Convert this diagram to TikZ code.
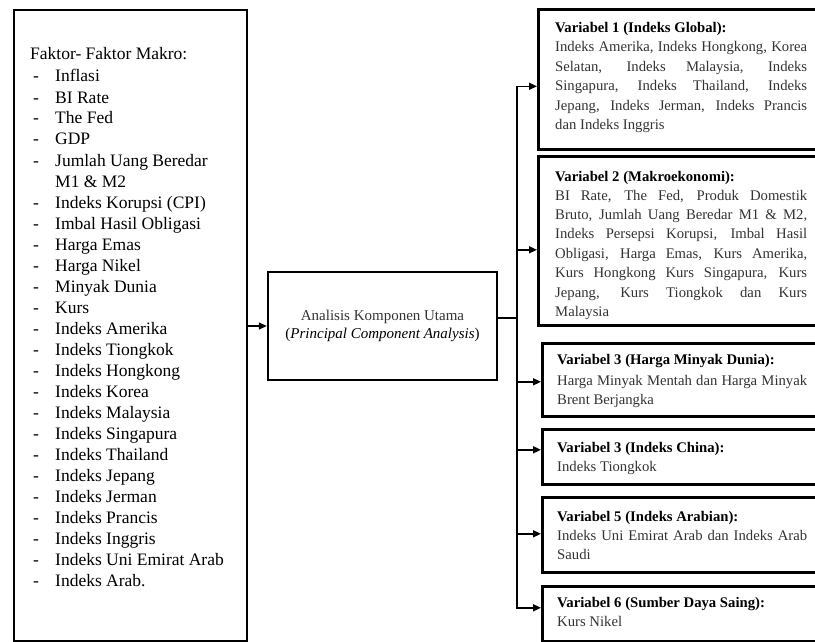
\documentclass[tikz,border=0pt]{standalone}
\usepackage{fontspec}
\setmainfont{Liberation Serif}
\usetikzlibrary{arrows.meta}
\begin{document}
\begin{tikzpicture}[x=1pt,y=-1pt,
  bigbox/.style={draw, line width=2.2pt, anchor=north west, inner sep=0pt},
  varbox/.style={draw, line width=2.6pt, anchor=north west, inner sep=0pt, minimum width=300pt},
  lt/.style={anchor=base west, inner sep=0pt, font=\fontsize{17.5}{21}\selectfont},
  hd/.style={anchor=base west, inner sep=0pt, font=\fontsize{14.7}{19.5}\selectfont\bfseries},
  bd/.style={anchor=base west, inner sep=0pt, text=black!80, font=\fontsize{14.7}{19.5}\selectfont},
  conn/.style={line width=1.5pt, -{Triangle[length=8pt,width=7pt]}},
  plain/.style={line width=1.5pt}]
\useasboundingbox (0,0) rectangle (815,642);
\clip (0,0) rectangle (815,642);

% left box
\node[bigbox, minimum width=233pt, minimum height=631pt] (src) at (13,9) {};
\node[lt] (hdr) at (30,60) {Faktor- Faktor Makro:};
\foreach \t [count=\i] in {Inflasi, BI Rate, The Fed, GDP, Jumlah Uang Beredar, M1 \& M2,
  Indeks Korupsi (CPI), Imbal Hasil Obligasi, Harga Emas, Harga Nikel, Minyak Dunia, Kurs,
  Indeks Amerika, Indeks Tiongkok, Indeks Hongkong, Indeks Korea, Indeks Malaysia,
  Indeks Singapura, Indeks Thailand, Indeks Jepang, Indeks Jerman, Indeks Prancis,
  Indeks Inggris, Indeks Uni Emirat Arab, Indeks Arab.}{
  \ifnum\i=6\else\node[lt] (d\i) at (33,{82+21*(\i-1)}) {-};\fi
  \node[lt] (it\i) at (55,{82+21*(\i-1)}) {\t};
}

% centre box
\node[draw, line width=2.4pt, minimum width=229pt, minimum height=108pt, inner sep=0pt,
  align=center, font=\fontsize{15}{18}\selectfont] (pca) at (382.5,326)
  {\textcolor{black!80}{Analisis Komponen Utama}\\(\textit{Principal Component Analysis})};

% right boxes
\node[varbox, minimum height=140pt] (v1) at (537,8) {};
\node[varbox, minimum height=169pt] (v2) at (537,155) {};
\node[varbox, minimum height=73pt] (v3) at (541,342) {};
\node[varbox, minimum height=55pt] (v4) at (541,428) {};
\node[varbox, minimum height=75pt] (v5) at (541,496) {};
\node[varbox, minimum height=55pt] (v6) at (541,585) {};

\node[hd] (h1) at (555,33) {Variabel 1 (Indeks Global):};
\node[bd] (b1) at (555,52) {\parbox[t]{252pt}{Indeks Amerika, Indeks Hongkong, Korea\linebreak
  Selatan, Indeks Malaysia, Indeks\linebreak Singapura, Indeks Thailand, Indeks\linebreak
  Jepang, Indeks Jerman, Indeks Prancis\linebreak dan Indeks Inggris}};

\node[hd] (h2) at (555,181) {Variabel 2 (Makroekonomi):};
\node[bd] (b2) at (555,200) {\parbox[t]{252pt}{BI Rate, The Fed, Produk Domestik\linebreak
  Bruto, Jumlah Uang Beredar M1 \& M2,\linebreak Indeks Persepsi Korupsi, Imbal Hasil\linebreak
  Obligasi, Harga Emas, Kurs Amerika,\linebreak Kurs Hongkong Kurs Singapura, Kurs\linebreak
  Jepang, Kurs Tiongkok dan Kurs\linebreak Malaysia}};

\node[hd] (h3) at (557,364) {Variabel 3 (Harga Minyak Dunia):};
\node[bd] (b3) at (557,385) {\parbox[t]{250pt}{Harga Minyak Mentah dan Harga Minyak\linebreak Brent Berjangka}};

\node[hd] (h4) at (557,452) {Variabel 3 (Indeks China):};
\node[bd] (b4) at (557,471) {Indeks Tiongkok};

\node[hd] (h5) at (557,521) {Variabel 5 (Indeks Arabian):};
\node[bd] (b5) at (557,540) {\parbox[t]{250pt}{Indeks Uni Emirat Arab dan Indeks Arab\linebreak Saudi}};

\node[hd] (h6) at (557,607) {Variabel 6 (Sumber Daya Saing):};
\node[bd] (b6) at (557,626) {Kurs Nikel};

% connectors
\draw[conn] (src.east |- pca.west) -- (pca.west);
\coordinate (bus) at (517,318);
\draw[plain] (pca.east |- bus) -- (bus);
\draw[conn] (bus) |- ([yshift=-7pt]v1.west);
\draw[conn] (bus) |- ([yshift=-9pt]v2.west);
\draw[conn] (bus) |- ([yshift=-2pt]v3.west);
\draw[conn] (bus) |- ([yshift=7pt]v4.west);
\draw[conn] (bus) |- ([yshift=1pt]v5.west);
\draw[conn] (bus) |- ([yshift=6pt]v6.west);
\end{tikzpicture}
\end{document}
